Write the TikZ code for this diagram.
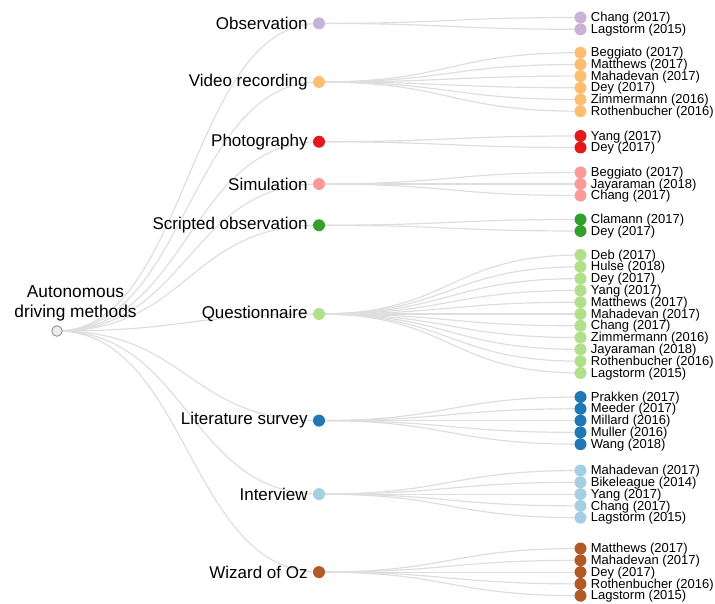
\documentclass[tikz,border=0pt]{standalone}
\usepackage{fontspec}
\setmainfont{Liberation Sans}
\usetikzlibrary{calc,backgrounds}
\definecolor{cObs}{HTML}{CAB2D6}
\definecolor{cVid}{HTML}{FDBF6F}
\definecolor{cPho}{HTML}{E31A1C}
\definecolor{cSim}{HTML}{FB9A99}
\definecolor{cScr}{HTML}{33A02C}
\definecolor{cQue}{HTML}{B2DF8A}
\definecolor{cLit}{HTML}{1F78B4}
\definecolor{cInt}{HTML}{A6CEE3}
\definecolor{cWiz}{HTML}{B15928}
\definecolor{linkgray}{HTML}{DEDEDE}
\begin{document}
\begin{tikzpicture}[x=1pt,y=-1pt,
  dot/.style={circle,inner sep=0pt,minimum size=12pt,draw=none},
  rootdot/.style={circle,inner sep=0pt,minimum size=10.5pt,fill=black!7,draw=black!40,line width=1pt},
  midlab/.style={inner sep=0pt,label distance=5pt,font=\fontsize{17}{20}\selectfont,text=black},
  leaflab/.style={inner sep=0pt,label distance=4pt,yshift=-0.8pt,font=\fontsize{13}{14}\selectfont,text=black},
  rootlab/.style={inner sep=0pt,align=center,font=\fontsize{17.3}{20}\selectfont,text=black},
  link/.style={draw=linkgray,line width=1.2pt}]
\useasboundingbox (0,0) rectangle (715,604);
\node[rootdot] (root) at (57,331) {};
\node[rootlab] (rootlabel) at (75.5,303) {Autonomous\\driving methods};
\foreach \nm/\y/\col/\txt in {
  obs/23.4/cObs/Observation,
  vid/82/cVid/Video recording,
  pho/141.75/cPho/Photography,
  sim/184/cSim/Simulation,
  scr/225.25/cScr/Scripted observation,
  que/314/cQue/Questionnaire,
  lit/420.6/cLit/Literature survey,
  int/494.1/cInt/Interview,
  wiz/572.1/cWiz/Wizard of Oz}
  \node[dot,fill=\col,label={[midlab]left:\txt}] (\nm) at (319,\y) {};
\foreach \p/\y/\col/\txt [count=\i] in {
  obs/17.5/cObs/{Chang (2017)},
  obs/29.3/cObs/{Lagstorm (2015)},
  vid/52.7/cVid/{Beggiato (2017)},
  vid/64.4/cVid/{Matthews (2017)},
  vid/76.1/cVid/{Mahadevan (2017)},
  vid/87.8/cVid/{Dey (2017)},
  vid/99.5/cVid/{Zimmermann (2016)},
  vid/111.2/cVid/{Rothenbucher (2016)},
  pho/136/cPho/{Yang (2017)},
  pho/147.5/cPho/{Dey (2017)},
  sim/172.5/cSim/{Beggiato (2017)},
  sim/184/cSim/{Jayaraman (2018)},
  sim/195.5/cSim/{Chang (2017)},
  scr/219.5/cScr/{Clamann (2017)},
  scr/231/cScr/{Dey (2017)},
  que/255/cQue/{Deb (2017)},
  que/266.8/cQue/{Hulse (2018)},
  que/278.6/cQue/{Dey (2017)},
  que/290.4/cQue/{Yang (2017)},
  que/302.2/cQue/{Matthews (2017)},
  que/314/cQue/{Mahadevan (2017)},
  que/325.8/cQue/{Chang (2017)},
  que/337.6/cQue/{Zimmermann (2016)},
  que/349.4/cQue/{Jayaraman (2018)},
  que/361.2/cQue/{Rothenbucher (2016)},
  que/373/cQue/{Lagstorm (2015)},
  lit/397/cLit/{Prakken (2017)},
  lit/408.8/cLit/{Meeder (2017)},
  lit/420.6/cLit/{Millard (2016)},
  lit/432.4/cLit/{Muller (2016)},
  lit/444.2/cLit/{Wang (2018)},
  int/470.5/cInt/{Mahadevan (2017)},
  int/482.3/cInt/{Bikeleague (2014)},
  int/494.1/cInt/{Yang (2017)},
  int/505.9/cInt/{Chang (2017)},
  int/517.7/cInt/{Lagstorm (2015)},
  wiz/548.5/cWiz/{Matthews (2017)},
  wiz/560.3/cWiz/{Mahadevan (2017)},
  wiz/572.1/cWiz/{Dey (2017)},
  wiz/583.9/cWiz/{Rothenbucher (2016)},
  wiz/595.7/cWiz/{Lagstorm (2015)}}
{
  \node[dot,fill=\col,label={[leaflab]right:{\txt}}] (leaf\i) at (580.5,\y) {};
  \begin{scope}[on background layer]
    \draw[link] (\p.center) .. controls ($(\p.center)!0.5!(leaf\i.center|-\p.center)$) and ($(leaf\i.center)!0.5!(\p.center|-leaf\i.center)$) .. (leaf\i.center);
  \end{scope}
}
\begin{scope}[on background layer]
\foreach \nm in {obs,vid,pho,sim,scr,que,lit,int,wiz}
  \draw[link] (root.center) .. controls ($(root.center)!0.5!(\nm.center|-root.center)$) and ($(\nm.center)!0.5!(root.center|-\nm.center)$) .. (\nm.center);
\end{scope}
\end{tikzpicture}
\end{document}
